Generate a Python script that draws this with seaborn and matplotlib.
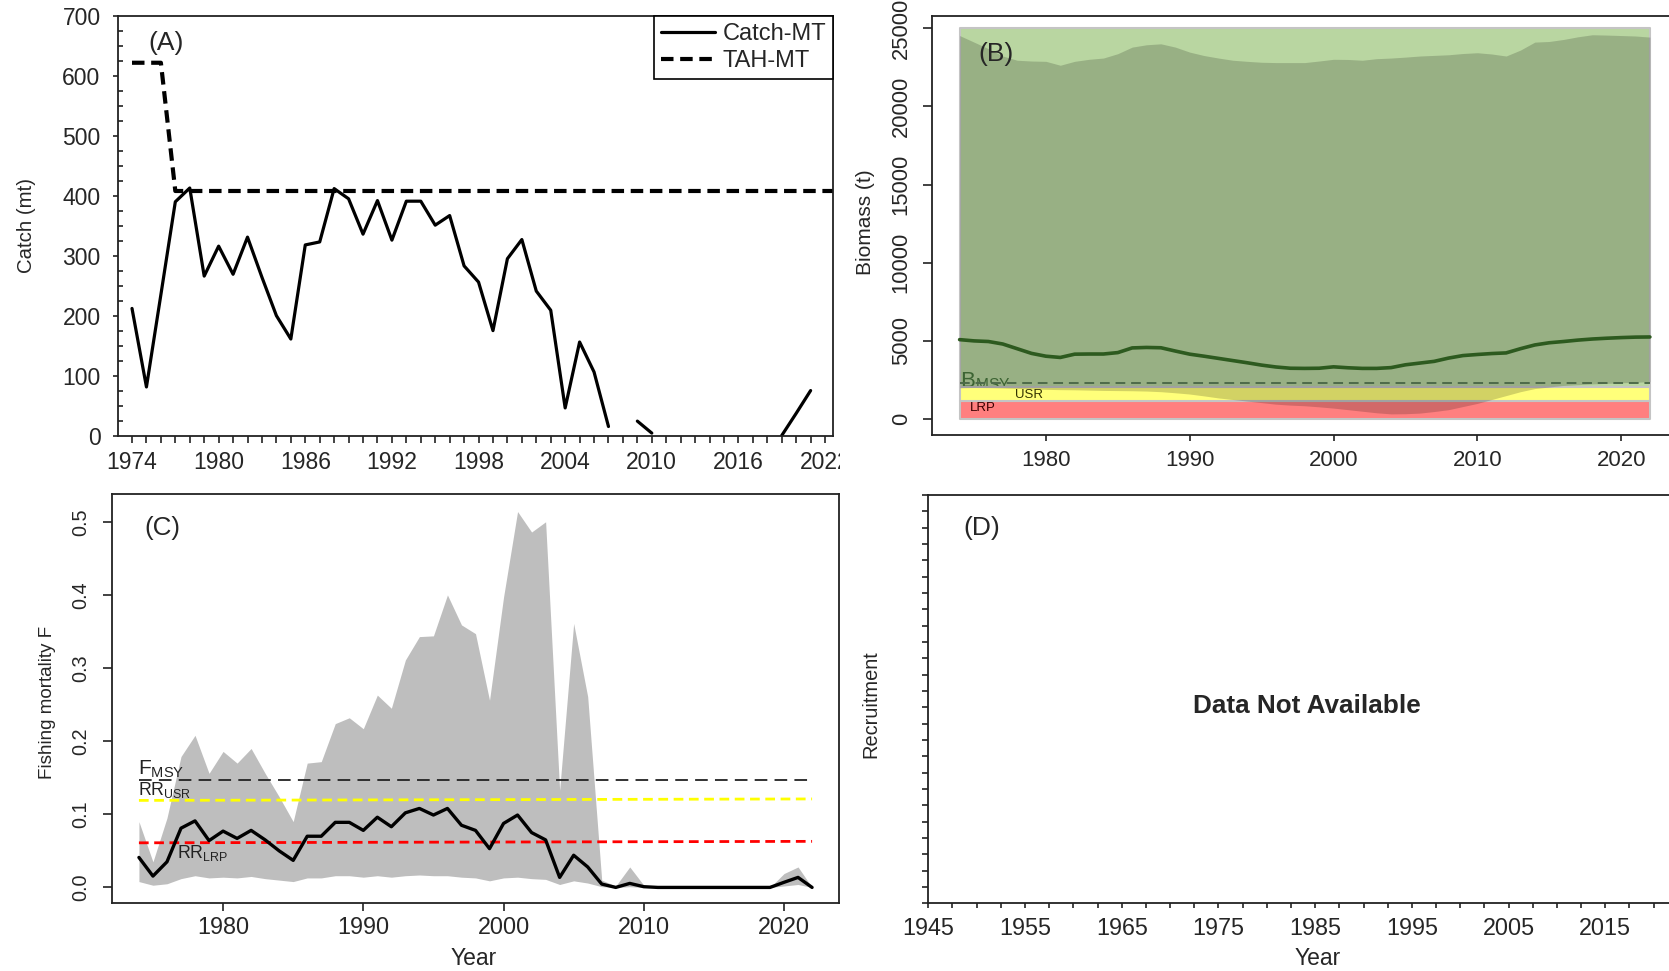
import numpy as np
import pandas as pd
import matplotlib
matplotlib.use('Agg')  # sem GUI
import matplotlib.pyplot as plt
import seaborn as sns
from matplotlib.ticker import MultipleLocator
from matplotlib.lines import Line2D
from matplotlib.transforms import Bbox, TransformedBbox

nan = np.nan

# ---- (A) catch vs TAH ----
catch_years = list(range(1974, 2022))
catch_mt = [212, 81, 235, 390, 413, 266, 316, 269, 331, 264,
            200, 161, 318, 323, 412, 395, 336, 392, 326, 391,
            391, 351, 367, 283, 256, 175, 295, 327, 241, 209,
            46, 156, 106, 15, nan, 24, 4, nan, nan, nan,
            nan, nan, nan, nan, nan, 0, 37, 75]
tah_years = [1974, 1976, 1977, 2023]
tah_mt = [622, 622, 408, 408]

# ---- (B) biomass ----
bio_years = list(range(1974, 2023))
bio_median = [5080, 5000, 4960, 4800, 4500, 4200, 4020, 3940, 4150, 4160,
              4160, 4250, 4550, 4580, 4560, 4350, 4150, 4020, 3880, 3740,
              3600, 3450, 3330, 3250, 3240, 3250, 3340, 3280, 3240, 3240,
              3290, 3470, 3580, 3690, 3900, 4060, 4130, 4190, 4230, 4500,
              4740, 4880, 4960, 5050, 5120, 5170, 5210, 5240, 5250]
bio_upper = [24530, 24110, 23690, 23220, 22950, 22900, 22880, 22630, 22880, 23010,
             23090, 23370, 23790, 23940, 24000, 23790, 23470, 23250, 23090, 22950,
             22880, 22820, 22800, 22800, 22800, 22900, 23010, 23000, 22950, 23050,
             23090, 23150, 23220, 23260, 23300, 23380, 23430, 23350, 23220, 23600,
             24110, 24150, 24280, 24450, 24580, 24560, 24530, 24500, 24430]
bio_lower = [2000, 2020, 2010, 1990, 1960, 1930, 1900, 1880, 1870, 1850,
             1830, 1820, 1810, 1790, 1750, 1680, 1600, 1480, 1350, 1250,
             1150, 1050, 950, 890, 850, 780, 700, 600, 500, 400,
             330, 340, 380, 480, 600, 800, 1000, 1250, 1500, 1750,
             1950, 2050, 2150, 2200, 2250, 2280, 2320, 2350, 2400]
zone_years = [1974, 2022]
zone_bounds = [0, 1165, 2045, 25000]
zone_colors = ['#ff7f7f', '#ffff7a', '#b9d6a1']
bmsy = 2320

# ---- (C) fishing mortality ----
f_years = list(range(1974, 2023))
f_median = [0.041, 0.0155, 0.035, 0.081, 0.091, 0.064, 0.077, 0.067, 0.078, 0.065,
            0.050, 0.037, 0.070, 0.070, 0.089, 0.089, 0.078, 0.096, 0.083, 0.102,
            0.108, 0.099, 0.108, 0.085, 0.078, 0.053, 0.0875, 0.099, 0.075, 0.065,
            0.0137, 0.044, 0.028, 0.0046, 0.0, 0.0055, 0.001, 0.0, 0.0, 0.0,
            0.0, 0.0, 0.0, 0.0, 0.0, 0.0, 0.007, 0.0137, 0.0]
f_upper = [0.090, 0.035, 0.095, 0.179, 0.208, 0.156, 0.186, 0.170, 0.190, 0.156,
           0.124, 0.090, 0.170, 0.172, 0.224, 0.232, 0.217, 0.263, 0.245, 0.311,
           0.343, 0.344, 0.400, 0.359, 0.347, 0.256, 0.397, 0.514, 0.486, 0.500,
           0.133, 0.361, 0.261, 0.010, 0.002, 0.028, 0.003, 0.0, 0.0, 0.0,
           0.0, 0.0, 0.0, 0.0, 0.0, 0.0, 0.019, 0.028, 0.0]
f_lower = [0.008, 0.003, 0.005, 0.012, 0.016, 0.013, 0.014, 0.013, 0.015, 0.012,
           0.010, 0.008, 0.013, 0.013, 0.016, 0.016, 0.014, 0.016, 0.014, 0.016,
           0.017, 0.016, 0.016, 0.014, 0.013, 0.009, 0.013, 0.014, 0.012, 0.011,
           0.004, 0.009, 0.006, 0.001, 0.0, 0.001, 0.0, 0.0, 0.0, 0.0,
           0.0, 0.0, 0.0, 0.0, 0.0, 0.0, 0.002, 0.004, 0.0]
ref_years = [1974, 2022]
f_msy = [0.147, 0.147]
rr_usr = [0.119, 0.121]
rr_lrp = [0.061, 0.063]

# ---- (D) recruitment: sem dados ----
d_ticks = [1945, 1955, 1965, 1975, 1985, 1995, 2005, 2015]

sns.set_style('ticks')
plt.rcParams['font.family'] = ['Liberation Sans', 'DejaVu Sans']
plt.rcParams['mathtext.fontset'] = 'custom'
plt.rcParams['mathtext.rm'] = 'Liberation Sans'
plt.rcParams['mathtext.it'] = 'Liberation Sans:italic'
plt.rcParams['mathtext.bf'] = 'Liberation Sans:bold'

W, H = 1669, 971
fig = plt.figure(figsize=(W / 100, H / 100), dpi=100)
fig.patch.set_facecolor('white')


def box(l, t, r, b):
    return [l / W, (H - b) / H, (r - l) / W, (b - t) / H]


axA = fig.add_axes(box(118, 16, 833, 435.5))
axB = fig.add_axes(box(932, 16, 1677.5, 435))
axC = fig.add_axes(box(112, 494, 839, 903))
axD = fig.add_axes(box(928.3, 495, 1702, 903.3))

for ax in [axA, axB, axC, axD]:
    ax.set_facecolor('white')
    for s in ax.spines.values():
        s.set_visible(True)
        s.set_color('#222222')
        s.set_linewidth(1.3)
    ax.tick_params(which='both', direction='out', color='#222222', width=1.2)

# ---------- (A) ----------
df_c = pd.DataFrame({'Year': catch_years, 'Catch': catch_mt})
df_c['seg'] = df_c['Catch'].isna().cumsum()
df_c = df_c.dropna()
sns.lineplot(data=df_c, x='Year', y='Catch', units='seg', estimator=None,
             color='black', lw=2.3, ax=axA)
sns.lineplot(x=tah_years, y=tah_mt, color='black', lw=3.0, ax=axA)
axA.lines[-1].set_dashes((3.0, 1.6))
axA.set_xlim(1973.03, 2022.55)
axA.set_ylim(0, 700)
axA.set_xticks(range(1974, 2023, 6))
axA.xaxis.set_minor_locator(MultipleLocator(1))
axA.set_yticks(range(0, 701, 100))
axA.yaxis.set_minor_locator(MultipleLocator(25))
axA.tick_params(axis='x', which='both', length=4.8, labelsize=16.5, pad=6)
axA.tick_params(axis='y', which='major', length=3.6, labelsize=16.5, pad=9)
axA.tick_params(axis='y', which='minor', length=3.5, direction='in')
axA.set_xlabel('')
axA.set_ylabel('Catch (mt)', fontsize=14.7)
axA.yaxis.set_label_coords(-0.114, 0.5)
axA.text(1976.35, 655, '(A)', fontsize=19, ha='center', va='center')
handles = [Line2D([], [], color='black', lw=2.3),
           Line2D([], [], color='black', lw=3.0, dashes=(3.0, 1.6))]
leg = axA.legend(handles, ['Catch-MT', 'TAH-MT'], loc='upper right',
                 bbox_to_anchor=(1, 1), borderaxespad=0, fontsize=17,
                 handlelength=2.3, handletextpad=0.3, borderpad=0.3,
                 labelspacing=0.2, fancybox=False, framealpha=1)
leg.get_frame().set_edgecolor('black')
leg.get_frame().set_linewidth(1.2)
# o painel A original foi recortado em x ~ 840 px
clip = TransformedBbox(Bbox([[0, 0], [840 / W, 1]]), fig.transFigure)
for lbl in axA.get_xticklabels():
    lbl.set_clip_box(clip)
    lbl.set_clip_on(True)

# ---------- (B) ----------
zorders = [2, 2, 1]
for i in range(3):
    axB.fill_between(zone_years, [zone_bounds[i]] * 2, [zone_bounds[i + 1]] * 2,
                     facecolor=zone_colors[i], edgecolor='#c4c4c4', lw=1.5,
                     zorder=zorders[i])
axB.text(1974.05, 2050, r'B$_{\mathrm{MSY}}$', fontsize=16, color='#4a7a3e',
         zorder=1.5)
axB.fill_between(bio_years, bio_lower, bio_upper, color='black', alpha=0.175,
                 lw=0, zorder=3)
sns.lineplot(x=bio_years, y=bio_median, color='#2d5a1f', lw=2.6, ax=axB, zorder=4)
sns.lineplot(x=zone_years, y=[bmsy, bmsy], color='#4d6b4a', lw=1.4, ax=axB, zorder=4)
axB.lines[-1].set_dashes((5, 3))
axB.text(1978.8, 1530, 'USR', fontsize=9.5, color='#333300', ha='center',
         va='center', zorder=5)
axB.text(1975.6, 700, 'LRP', fontsize=9.5, color='#3a0000', ha='center',
         va='center', zorder=5)
axB.text(1976.5, 23340, '(B)', fontsize=19, ha='center', va='center', zorder=5)
axB.set_xlim(1972.08, 2023.92)
axB.set_ylim(-1020, 25780)
axB.set_xticks([1980, 1990, 2000, 2010, 2020])
axB.set_yticks([0, 5000, 10000, 15000, 20000, 25000])
axB.tick_params(axis='x', length=4.5, labelsize=16, pad=6)
axB.tick_params(axis='y', length=6.5, labelsize=15.8, pad=8, labelrotation=90)
for lbl in axB.get_yticklabels():
    lbl.set_va('center')
axB.set_xlabel('')
axB.set_ylabel('Biomass (t)', fontsize=15)
axB.yaxis.set_label_coords(-0.077, 0.507)

# ---------- (C) ----------
axC.fill_between(f_years, f_lower, f_upper, color='#bebebe', lw=0, zorder=1)
sns.lineplot(x=ref_years, y=f_msy, color='#222222', lw=1.3, ax=axC, zorder=2)
axC.lines[-1].set_dashes((7, 4))
sns.lineplot(x=ref_years, y=rr_usr, color='#ffff00', lw=2.0, ax=axC, zorder=2)
axC.lines[-1].set_dashes((3.5, 2))
sns.lineplot(x=ref_years, y=rr_lrp, color='#ff0000', lw=2.0, ax=axC, zorder=2)
axC.lines[-1].set_dashes((3.5, 2))
sns.lineplot(x=f_years, y=f_median, color='black', lw=2.4, ax=axC, zorder=3)
axC.text(1973.9, 0.1536, r'F$_{\mathrm{MSY}}$', fontsize=15, color='#222222',
         va='baseline', zorder=4)
axC.text(1973.9, 0.1265, r'RR$_{\mathrm{USR}}$', fontsize=12.7, color='#222222',
         va='baseline', zorder=4)
axC.text(1976.7, 0.0397, r'RR$_{\mathrm{LRP}}$', fontsize=12.7, color='#222222',
         va='baseline', zorder=4)
axC.text(1975.7, 0.4915, '(C)', fontsize=18.7, ha='center', va='center', zorder=4)
axC.set_xlim(1972.08, 2023.92)
axC.set_ylim(-0.0213, 0.538)
axC.set_xticks([1980, 1990, 2000, 2010, 2020])
axC.set_yticks([0.0, 0.1, 0.2, 0.3, 0.4, 0.5])
axC.tick_params(axis='x', length=5.5, labelsize=16.8, pad=4)
axC.tick_params(axis='y', length=6.5, labelsize=14.3, pad=9, labelrotation=90)
for lbl in axC.get_yticklabels():
    lbl.set_va('center')
axC.set_xlabel('Year', fontsize=16.5)
axC.xaxis.set_label_coords(0.4975, -0.108)
axC.set_ylabel('Fishing mortality F', fontsize=13.6)
axC.yaxis.set_label_coords(-0.077, 0.49)

# ---------- (D) ----------
axD.set_xlim(1945, 2025)
axD.set_ylim(0, 25)
axD.set_xticks(d_ticks)
axD.xaxis.set_minor_locator(MultipleLocator(2.5))
axD.yaxis.set_major_locator(MultipleLocator(5))
axD.yaxis.set_minor_locator(MultipleLocator(1))
axD.tick_params(axis='x', which='both', length=3.8, labelsize=16.8, pad=6)
axD.tick_params(axis='y', which='both', length=4.2, labelleft=False)
axD.text(1950.55, 23.0, '(D)', fontsize=19, ha='center', va='center')
axD.text(1984.1, 12.08, 'Data Not Available', fontsize=18.8, fontweight='bold',
         ha='center', va='center')
axD.set_xlabel('Year', fontsize=16.5)
axD.xaxis.set_label_coords(0.503, -0.107)
axD.set_ylabel('Recruitment', fontsize=14.4)
axD.yaxis.set_label_coords(-0.062, 0.487)

fig.savefig('out.png', dpi=100)
